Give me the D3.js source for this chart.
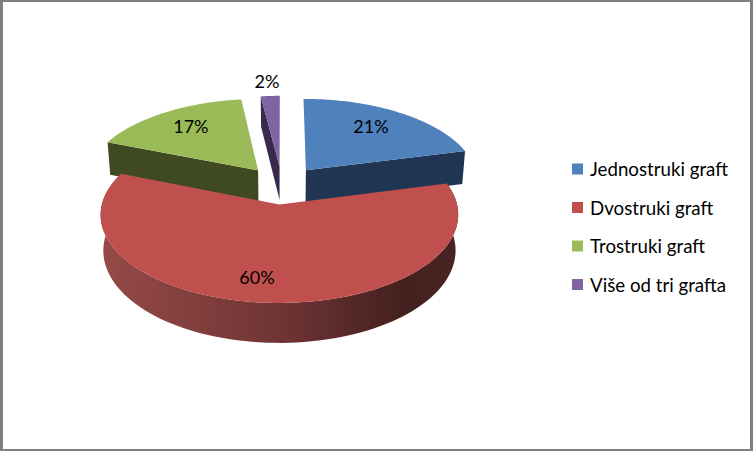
<!DOCTYPE html>
<html>
<head>
<meta charset="utf-8">
<script src="https://cdn.jsdelivr.net/npm/d3@7/dist/d3.min.js"></script>
<style>
body { margin: 0; background: #fff; }
svg { display: block; }
text { font-family: Lato, "Open Sans", sans-serif; fill: #000; }
</style>
</head>
<body>
<svg width="753" height="451"></svg>
<script>
// share of each category, clockwise from 12 o'clock
const categories = ["Jednostruki graft", "Dvostruki graft", "Trostruki graft", "Više od tri grafta"]
const shares = [21, 60, 17, 2]

const topColors = ["#4f81bd", "#c0504d", "#9bbb59", "#8064a2"]
const sideColors = ["#1f3552", "#7a3532", "#3f4a22", "#372a4b"]

// label spot for each slice: radius and angle (deg) on the slice's own disk
const labelRadius = [0.73, 0.77, 0.735, 1.24]
const labelAngle = [35, 188.5, 324, 356]

const svg = d3.select("svg")

// page frame
svg.append("rect").attr("width", 753).attr("height", 451).attr("fill", "#808080")
svg.append("rect").attr("x", 3).attr("y", 2).attr("width", 747).attr("height", 447).attr("fill", "#fff")

// fake 3D: disk coordinates (u right, v towards the viewer) go through a perspective
const cx = 282, cy = 185, scaleU = 173, scaleV = 82.6, persp = 0.113, depth = 34.4, bottomShrink = 0.985
const explode = 0.23

function project(u, v, bottom) {
    const w = 1 - persp * v
    const s = bottom ? bottomShrink : 1
    return [cx + scaleU * s * u / w, cy + (scaleV * v + (bottom ? depth : 0)) / w]
}

// point on a slice: a = clockwise angle from the top, r = radius, mid = the slice's explode direction
function slicePoint(a, r, mid, bottom) {
    const u = r * Math.sin(a) + explode * Math.sin(mid)
    const v = -r * Math.cos(a) - explode * Math.cos(mid)
    return project(u, v, bottom)
}

const pie = d3.pie().sort(null)
const slices = pie(shares).map((d, i) => ({ ...d, i: i, mid: (d.startAngle + d.endAngle) / 2 }))

const line = d3.line()

function arcPoints(d, bottom) {
    return d3.range(0, 1.0001, 0.01).map(t => {
        const a = d.startAngle + t * (d.endAngle - d.startAngle)
        return slicePoint(a, 1, d.mid, bottom)
    })
}

// gradient on the red rim
const grad = svg.append("defs").append("linearGradient")
    .attr("id", "rim")
    .attr("gradientUnits", "userSpaceOnUse")
    .attr("x1", 100).attr("x2", 458).attr("y1", 0).attr("y2", 0)
grad.append("stop").attr("offset", 0).attr("stop-color", "#974a48")
grad.append("stop").attr("offset", 0.5).attr("stop-color", "#6f3534")
grad.append("stop").attr("offset", 0.85).attr("stop-color", "#44201f")
grad.append("stop").attr("offset", 1).attr("stop-color", "#4a2423")

// painted from back to front
const drawOrder = [3, 2, 0, 1]

const pieGroup = svg.append("g")

drawOrder.forEach(k => {
    const d = slices[k]
    // cut face: purple shows its start-of-slice edge, the others their visible radial edge
    if (k === 0 || k === 2 || k === 3) {
        const a = k === 0 ? d.endAngle : d.startAngle
        const cut = [
            slicePoint(a, 0, d.mid, false),
            slicePoint(a, 1, d.mid, false),
            slicePoint(a, 1, d.mid, true),
            slicePoint(a, 0, d.mid, true)
        ]
        pieGroup.append("path")
            .attr("d", line(cut) + "Z")
            .attr("fill", sideColors[k])
    }
    if (k === 1) {
        // outer rim of the big slice
        const rim = arcPoints(d, false).concat(arcPoints(d, true).reverse())
        pieGroup.append("path")
            .attr("d", line(rim) + "Z")
            .attr("fill", "url(#rim)")
    }
    const face = [slicePoint(d.startAngle, 0, d.mid, false)].concat(arcPoints(d, false))
    pieGroup.append("path")
        .attr("d", line(face) + "Z")
        .attr("fill", topColors[k])
})

// percent labels
svg.selectAll("text.pct")
    .data(slices)
    .enter()
    .append("text")
    .attr("class", "pct")
    .attr("text-anchor", "middle")
    .attr("dominant-baseline", "central")
    .attr("font-size", 18)
    .attr("transform", d => {
        const p = slicePoint(labelAngle[d.i] * Math.PI / 180, labelRadius[d.i], d.mid, false)
        return "translate(" + p[0] + "," + p[1] + ")"
    })
    .text(d => d.data + "%")

// legend
const legendY = d3.scalePoint().domain(categories).range([169, 284.5])

const legend = svg.selectAll("g.legend")
    .data(categories)
    .enter()
    .append("g")
    .attr("class", "legend")
    .attr("transform", d => "translate(572," + legendY(d) + ")")

legend.append("rect")
    .attr("x", 0)
    .attr("y", -5.5)
    .attr("width", 11)
    .attr("height", 11)
    .attr("fill", (d, i) => topColors[i])

legend.append("text")
    .attr("x", 18)
    .attr("dominant-baseline", "central")
    .attr("font-size", 18.7)
    .text(d => d)
</script>
</body>
</html>
